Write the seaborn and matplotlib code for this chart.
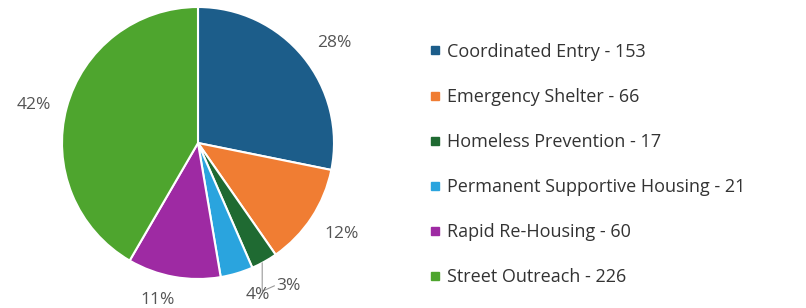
import numpy as np
import matplotlib
matplotlib.use("Agg")
import matplotlib.pyplot as plt
import seaborn as sns

# Data
categories = ["Coordinated Entry", "Emergency Shelter", "Homeless Prevention",
              "Permanent Supportive Housing", "Rapid Re-Housing", "Street Outreach"]
counts = [153, 66, 17, 21, 60, 226]
colors = ["#1c5d8a", "#f07d33", "#1f6a32", "#2aa4de", "#9e2aa3", "#4ea52e"]

sns.set_theme(style="white")
plt.rcParams["font.family"] = ["Open Sans", "DejaVu Sans"]

fig = plt.figure(figsize=(8.06, 3.08), dpi=100)
W, H = 806, 308
cx, cy, r = 198, 143, 136
ax = fig.add_axes([(cx - r) / W, (H - cy - r) / H, 2 * r / W, 2 * r / H])

wedges, _ = ax.pie(counts, colors=colors, startangle=90, counterclock=False,
                   wedgeprops=dict(edgecolor="white", linewidth=1.5))
ax.set_xlim(-1, 1)
ax.set_ylim(-1, 1)
ax.set_aspect("auto")

# percentage labels outside the pie
total = sum(counts)
angle_nudge = [-3, 1, 0, 5, -4, 2]
label_dist = [1.24, 1.25, 1.2, 1.2, 1.19, 1.24]
for i, w in enumerate(wedges):
    pct = f"{round(100 * counts[i] / total):d}%"
    mid = (w.theta1 + w.theta2) / 2 + angle_nudge[i]
    x = label_dist[i] * np.cos(np.radians(mid))
    y = label_dist[i] * np.sin(np.radians(mid))
    if categories[i] == "Homeless Prevention":
        ex = np.cos(np.radians(mid - 1))
        ey = np.sin(np.radians(mid - 1))
        ax.plot([ex, ex, ex + 0.09], [ey, -1.09, -1.05], color="#999999", lw=0.8,
                clip_on=False)
        ax.text(ex + 0.1, -1.05, pct, ha="left", va="center", fontsize=12.5,
                color="#555555")
    else:
        ax.text(x, y, pct, ha="center", va="center", fontsize=12.5, color="#555555")

handles = [plt.Line2D([], [], marker="s", linestyle="none", markersize=5.5,
                      markerfacecolor=c, markeredgecolor=c) for c in colors]
labels = [f"{c} - {n}" for c, n in zip(categories, counts)]
fig.legend(handles, labels, loc="center left", bbox_to_anchor=(413 / W, 0.466),
           frameon=False, fontsize=13, labelspacing=1.5, handlelength=0.6,
           handletextpad=0.4, labelcolor="#333333")

fig.savefig("out.png", dpi=100, facecolor="white")
